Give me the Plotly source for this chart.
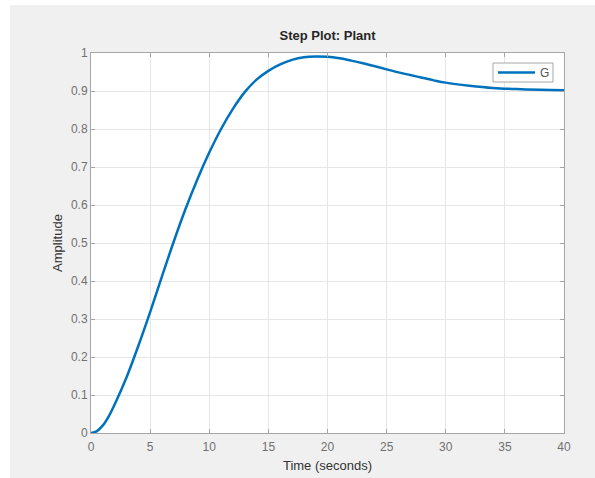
import plotly.graph_objects as go

# Data read from the step response
time_s = [0, 0.5, 1, 1.5, 2, 3, 4, 5, 6, 7, 8, 9, 10, 11, 12, 13, 14, 15, 16, 17, 18, 19, 20,
          21, 22, 23, 24, 25, 26, 27, 28, 29, 30, 32, 34, 36, 38, 40]
amplitude = [0, 0.005, 0.02, 0.044, 0.075, 0.146, 0.229, 0.318, 0.412, 0.504, 0.59, 0.668,
             0.738, 0.80, 0.853, 0.897, 0.93, 0.953, 0.97, 0.982, 0.989, 0.991, 0.990,
             0.986, 0.980, 0.973, 0.965, 0.957, 0.949, 0.942, 0.935, 0.928, 0.922,
             0.914, 0.908, 0.905, 0.903, 0.902]
x_ticks = [0, 5, 10, 15, 20, 25, 30, 35, 40]
y_ticks = [0, 0.1, 0.2, 0.3, 0.4, 0.5, 0.6, 0.7, 0.8, 0.9, 1]
series_name = "G"

W, H = 595, 478
L, R, T, B = 91, 31, 53, H - 433
pw, ph = W - L - R, H - T - B
FONT = "Liberation Sans, Arial"

def px_x(p):
    return (p - L) / pw

def px_y(p):
    return (H - B - p) / ph

fig = go.Figure()
fig.add_trace(go.Scatter(x=time_s, y=amplitude, mode="lines", name=series_name,
                         line=dict(color="#0072BD", width=2.5, shape="spline", smoothing=1.0),
                         showlegend=False))

axis_common = dict(showgrid=True, gridcolor="#e6e6e6", gridwidth=1,
                   showline=True, linecolor="#a6a6a6", linewidth=1, mirror="ticks",
                   ticks="inside", ticklen=4, tickcolor="#a6a6a6",
                   tickfont=dict(family=FONT, size=12, color="#707070"),
                   zeroline=False, automargin=False)

fig.update_xaxes(range=[0, 40], tickvals=x_ticks, ticklabelstandoff=3,
                 title=dict(text="Time (seconds)", standoff=7,
                            font=dict(family=FONT, size=13, color="#333333")),
                 **axis_common)
fig.update_yaxes(range=[0, 1], tickvals=y_ticks, ticktext=[f"{v:g}" for v in y_ticks],
                 title=dict(text="Amplitude", standoff=5,
                            font=dict(family=FONT, size=13, color="#333333")),
                 **axis_common)

shapes = [
    # white border strips of the screenshot
    dict(type="rect", xref="paper", yref="paper", x0=px_x(0), x1=px_x(W), y0=px_y(0), y1=px_y(5),
         fillcolor="white", line=dict(width=0), layer="above"),
    dict(type="rect", xref="paper", yref="paper", x0=px_x(0), x1=px_x(10), y0=px_y(0), y1=px_y(H),
         fillcolor="white", line=dict(width=0), layer="above"),
    # legend box
    dict(type="rect", xref="paper", yref="paper", x0=px_x(493), x1=px_x(553), y0=px_y(82), y1=px_y(63),
         fillcolor="white", line=dict(color="#a6a6a6", width=1), layer="above"),
    dict(type="line", xref="paper", yref="paper", x0=px_x(498), x1=px_x(535), y0=px_y(72.5), y1=px_y(72.5),
         line=dict(color="#0072BD", width=2.5), layer="above"),
]

annotations = [
    dict(text=series_name, xref="paper", yref="paper", x=px_x(538), y=px_y(73),
         xanchor="left", yanchor="middle", showarrow=False,
         font=dict(family=FONT, size=12, color="#555555")),
]

fig.update_layout(
    width=W, height=H,
    margin=dict(l=L, r=R, t=T, b=B),
    paper_bgcolor="#f0f0f0", plot_bgcolor="white",
    title=dict(text="<b>Step Plot: Plant</b>", x=327.5 / W, xanchor="center",
               y=1 - 35 / H, yanchor="middle",
               font=dict(family=FONT, size=13, color="#262626")),
    showlegend=False,
    shapes=shapes,
    annotations=annotations,
)

fig.write_html("out.html", config={"displayModeBar": False},
               post_script="document.body.style.margin='0';document.body.style.overflow='hidden';"
                           "document.body.style.background='#f0f0f0';")
